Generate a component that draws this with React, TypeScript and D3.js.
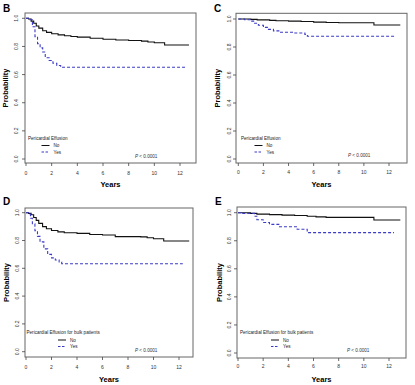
import React from 'react';
import * as d3 from 'd3';

// Kaplan-Meier style step curves (years, probability)
const bNoTimes = [0, 0.2, 0.4, 0.6, 0.8, 1.0, 1.3, 1.6, 2.0, 2.5, 3.0, 3.5, 4.0, 5.0, 6.0, 7.0, 8.0, 9.0, 9.5, 10.0, 10.8, 12.7];
const bNoValues = [1, 0.995, 0.98, 0.965, 0.945, 0.93, 0.912, 0.9, 0.89, 0.882, 0.876, 0.871, 0.866, 0.858, 0.851, 0.846, 0.842, 0.838, 0.832, 0.826, 0.81, 0.81];
const bYesTimes = [0, 0.3, 0.5, 0.7, 0.9, 1.1, 1.3, 1.5, 1.8, 2.1, 2.4, 2.7, 12.5];
const bYesValues = [1, 0.99, 0.94, 0.87, 0.82, 0.79, 0.76, 0.72, 0.7, 0.68, 0.665, 0.652, 0.652];

const cNoTimes = [0, 1.0, 1.5, 2.5, 3.0, 4.0, 5.0, 6.0, 7.0, 8.0, 10.8, 12.9];
const cNoValues = [1, 0.997, 0.994, 0.99, 0.988, 0.985, 0.982, 0.978, 0.975, 0.973, 0.957, 0.957];
const cYesTimes = [0, 0.5, 1.0, 1.3, 1.6, 2.0, 2.4, 2.8, 3.3, 4.5, 5.3, 5.5, 12.45];
const cYesValues = [1, 0.995, 0.985, 0.97, 0.955, 0.94, 0.926, 0.915, 0.905, 0.9, 0.89, 0.877, 0.877];

const dNoTimes = [0, 0.2, 0.4, 0.6, 0.8, 1.0, 1.3, 1.6, 2.0, 2.5, 3.0, 4.0, 5.0, 6.0, 7.0, 8.0, 9.0, 9.5, 10.0, 10.8, 12.8];
const dNoValues = [1, 0.995, 0.985, 0.965, 0.945, 0.923, 0.9, 0.885, 0.872, 0.862, 0.856, 0.851, 0.843, 0.84, 0.828, 0.828, 0.826, 0.82, 0.813, 0.796, 0.796];
const dYesTimes = [0, 0.2, 0.35, 0.5, 0.7, 0.9, 1.1, 1.4, 1.7, 2.0, 2.3, 2.6, 2.8, 12.3];
const dYesValues = [1, 0.99, 0.96, 0.92, 0.87, 0.83, 0.79, 0.74, 0.7, 0.675, 0.66, 0.645, 0.633, 0.633];

const eNoTimes = [0, 1.0, 1.5, 2.5, 3.5, 4.5, 5.5, 6.2, 7.0, 10.8, 12.9];
const eNoValues = [1, 0.995, 0.99, 0.986, 0.983, 0.98, 0.975, 0.97, 0.967, 0.948, 0.948];
const eYesTimes = [0, 0.3, 1.3, 1.5, 2.0, 2.5, 3.3, 4.7, 5.5, 12.4];
const eYesValues = [1, 0.995, 0.975, 0.95, 0.93, 0.917, 0.9, 0.882, 0.858, 0.858];

const xTicks = [0, 2, 4, 6, 8, 10, 12];
const yTicks = [0, 0.2, 0.4, 0.6, 0.8, 1.0];
const groupLabels = ['No', 'Yes'];
const pText = '< 0.0001';

const BLUE = '#3b3bc8';
const FONT = 'Liberation Sans, Arial, sans-serif';

type Panel = {
  letter: string;
  legendTitle: string;
  no: [number[], number[]];
  yes: [number[], number[]];
  // pixel layout
  x0: number; x12: number; y1: number; y0: number;
  box: [number, number, number, number]; // left, right, top, bottom
  letterPos: [number, number];
  yTickX: number; xTickY: number; probX: number; yearsY: number;
  legend: [number, number, number]; // title x, title y, line x
  pPos: [number, number];
};

const panels: Panel[] = [
  {
    letter: 'B', legendTitle: 'Pericardial Effusion',
    no: [bNoTimes, bNoValues], yes: [bYesTimes, bYesValues],
    x0: 26, x12: 180, y1: 18.3, y0: 159, box: [25, 196, 13, 163],
    letterPos: [3, 12], yTickX: 18, xTickY: 175, probX: 8, yearsY: 187,
    legend: [28, 139.5, 41.5], pPos: [135, 157.5],
  },
  {
    letter: 'C', legendTitle: 'Pericardial Effusion',
    no: [cNoTimes, cNoValues], yes: [cYesTimes, cYesValues],
    x0: 238.3, x12: 389, y1: 19, y0: 159, box: [236, 407, 13.3, 163],
    letterPos: [214, 12], yTickX: 231, xTickY: 173.5, probX: 220, yearsY: 187,
    legend: [241, 139.5, 254.5], pPos: [348, 157],
  },
  {
    letter: 'D', legendTitle: 'Pericardial Effusion for bulk patients',
    no: [dNoTimes, dNoValues], yes: [dYesTimes, dYesValues],
    x0: 26, x12: 179, y1: 212.7, y0: 351.7, box: [25, 193, 208, 357],
    letterPos: [3, 205], yTickX: 18.5, xTickY: 369, probX: 8.5, yearsY: 382,
    legend: [26.5, 334, 58], pPos: [135, 352],
  },
  {
    letter: 'E', legendTitle: 'Pericardial Effusion for bulk patients',
    no: [eNoTimes, eNoValues], yes: [eYesTimes, eYesValues],
    x0: 238, x12: 389, y1: 212.7, y0: 353, box: [237, 406, 207, 358],
    letterPos: [215, 205], yTickX: 231, xTickY: 367.5, probX: 221.5, yearsY: 382,
    legend: [240, 334, 271], pPos: [347, 352],
  },
];

const KMPanel = ({ p }: { p: Panel }) => {
  const x = d3.scaleLinear().domain([0, 12]).range([p.x0, p.x12]);
  const y = d3.scaleLinear().domain([0, 1]).range([p.y0, p.y1]);
  const line = d3.line<[number, number]>()
    .x(d => x(d[0]))
    .y(d => y(d[1]))
    .curve(d3.curveStepAfter);
  const noPts = p.no[0].map((t, i) => [t, p.no[1][i]] as [number, number]);
  const yesPts = p.yes[0].map((t, i) => [t, p.yes[1][i]] as [number, number]);
  const [bl, br, bt, bb] = p.box;
  const [lx, ly, llx] = p.legend;

  return (
    <g fontFamily={FONT}>
      <text x={p.letterPos[0]} y={p.letterPos[1]} fontSize={10} fontWeight="bold">{p.letter}</text>
      <rect x={bl} y={bt} width={br - bl} height={bb - bt} fill="none" stroke="#666" strokeWidth={1} />
      {xTicks.map(t => (
        <g key={'x' + t}>
          <line x1={x(t)} x2={x(t)} y1={bb} y2={bb + 3} stroke="#444" strokeWidth={0.8} />
          <text x={x(t)} y={p.xTickY} fontSize={5} textAnchor="middle" fill="#333">{t}</text>
        </g>
      ))}
      {yTicks.map(v => (
        <g key={'y' + v}>
          <line x1={bl - 3} x2={bl} y1={y(v)} y2={y(v)} stroke="#444" strokeWidth={0.8} />
          <text transform={`translate(${p.yTickX},${y(v)}) rotate(-90)`} fontSize={5} textAnchor="middle" fill="#333">
            {v.toFixed(1)}
          </text>
        </g>
      ))}
      <text transform={`translate(${p.probX},${(bt + bb) / 2}) rotate(-90)`} fontSize={7.5} fontWeight="bold" textAnchor="middle">
        Probability
      </text>
      <text x={(bl + br) / 2} y={p.yearsY} fontSize={7.5} fontWeight="bold" textAnchor="middle">Years</text>

      <path d={line(noPts) ?? ''} fill="none" stroke="#111" strokeWidth={1.1} />
      <path d={line(yesPts) ?? ''} fill="none" stroke={BLUE} strokeWidth={1.1} strokeDasharray="3,2" />

      <text x={lx} y={ly} fontSize={4.6} fill="#222">{p.legendTitle}</text>
      {groupLabels.map((g, i) => (
        <g key={g}>
          <line x1={llx} x2={llx + 8} y1={ly + 6 + i * 6.5} y2={ly + 6 + i * 6.5}
            stroke={i === 0 ? '#111' : BLUE} strokeWidth={1} strokeDasharray={i === 0 ? undefined : '2.5,1.5'} />
          <text x={llx + 12} y={ly + 7.7 + i * 6.5} fontSize={4.6} fill="#222">{g}</text>
        </g>
      ))}
      <text x={p.pPos[0]} y={p.pPos[1]} fontSize={4.6} fill="#333">
        <tspan fontStyle="italic">P</tspan> {pText}
      </text>
    </g>
  );
};

export default function App() {
  return (
    <svg width={415} height={385} style={{ position: 'absolute', left: 0, top: 0, background: '#fff' }}>
      {panels.map(p => <KMPanel key={p.letter} p={p} />)}
    </svg>
  );
}
